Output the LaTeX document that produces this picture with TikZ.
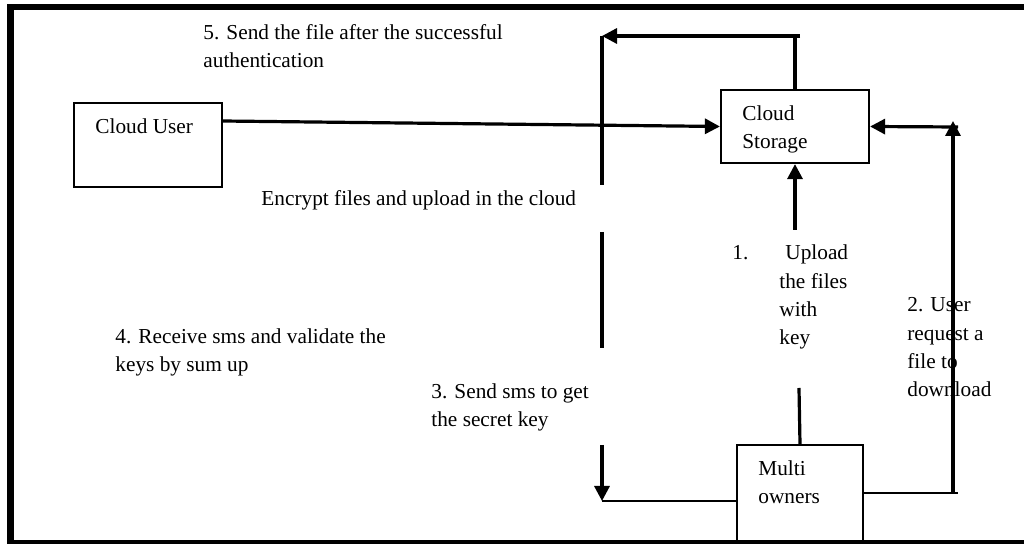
\documentclass[tikz,border=0pt]{standalone}
\usepackage{fontspec}
\setmainfont{Liberation Serif}
\usetikzlibrary{arrows.meta}
\begin{document}
\begin{tikzpicture}[x=0.5pt,y=-0.5pt,
  box/.style={draw,line width=1.1pt,rectangle,inner sep=0pt},
  txt/.style={inner sep=0pt,anchor=base west,align=left,font=\fontsize{10.65pt}{14.2pt}\selectfont},
  conn/.style={line width=1.6pt},
  thinconn/.style={line width=1.1pt},
  arr/.style={line width=1.6pt,-{Triangle[length=7.5pt,width=7.5pt]}},
  frame/.style={line width=3.2pt}]
\useasboundingbox (0,0) rectangle (1024,544);
\clip (0,0) rectangle (1024,544);
\fill[white] (0,0) rectangle (1024,544);
% outer frame
\draw[frame] (1040,7) -- (10.5,7) -- (10.5,543.5) -- (1040,543.5);
% boxes
\node[box,minimum width=74pt,minimum height=42pt] (cu) at (148,145) {};
\node[box,minimum width=74pt,minimum height=36.5pt] (cs) at (795,126.5) {};
\node[box,minimum width=63pt,minimum height=48pt] (mo) at (800,493) {};
% box texts (anchor = baseline of the last line)
\node[txt] (cuT) at (95,134) {Cloud User};
\node[txt] (csT) at (742,149) {Cloud\\Storage};
\node[txt] (moT) at (758,504) {Multi\\owners};
% labels
\node[txt] (l5) at (203,68) {5. Send the file after the successful\\authentication};
\node[txt] (lenc) at (261,206) {Encrypt files and upload in the cloud};
\node[txt] (l1n) at (732,260) {1.};
\node[txt] (l1) at (779,345) {\hspace{3pt}Upload\\the files\\with\\key};
\node[txt] (l2) at (907,397) {2. User\\request a\\file to\\download};
\node[txt] (l4) at (115,372) {4. Receive sms and validate the\\keys by sum up};
\node[txt] (l3) at (431,427) {3. Send sms to get\\the secret key};
% coordinates
\coordinate (cuOut) at (222,121);
\coordinate (topL) at (602,36);
\coordinate (topR) at (800,36);
\coordinate (v1b) at (602,185);
\coordinate (v2t) at (602,232);
\coordinate (v2b) at (602,348);
\coordinate (v3t) at (602,445);
\coordinate (v3b) at (602,501);
\coordinate (moIn) at (737,501);
\coordinate (upA) at (799,388);
\coordinate (upB) at (795,230);
\coordinate (rB) at (958,493);
\coordinate (rBx) at (953,493);
\coordinate (rT) at (953,121);
\coordinate (rH) at (958,127);
% connectors
\draw[arr] (cuOut) -- (cs.west);
\draw[conn] (cs.north) -- (cs.north |- topR);
\draw[arr] (topR) -- (topL);
\draw[conn] (topL) -- (v1b);
\draw[conn] (v2t) -- (v2b);
\draw[arr] (v3t) -- (v3b);
\draw[thinconn] (v3b) -- (moIn);
\draw[conn] (mo.north) -- (upA);
\draw[arr] (upB) -- (cs.south);
\draw[thinconn] (mo.east) -- (rB);
\draw[arr] (rBx) -- (rT);
\draw[arr] (rH) -- (cs.east);
\end{tikzpicture}
\end{document}
